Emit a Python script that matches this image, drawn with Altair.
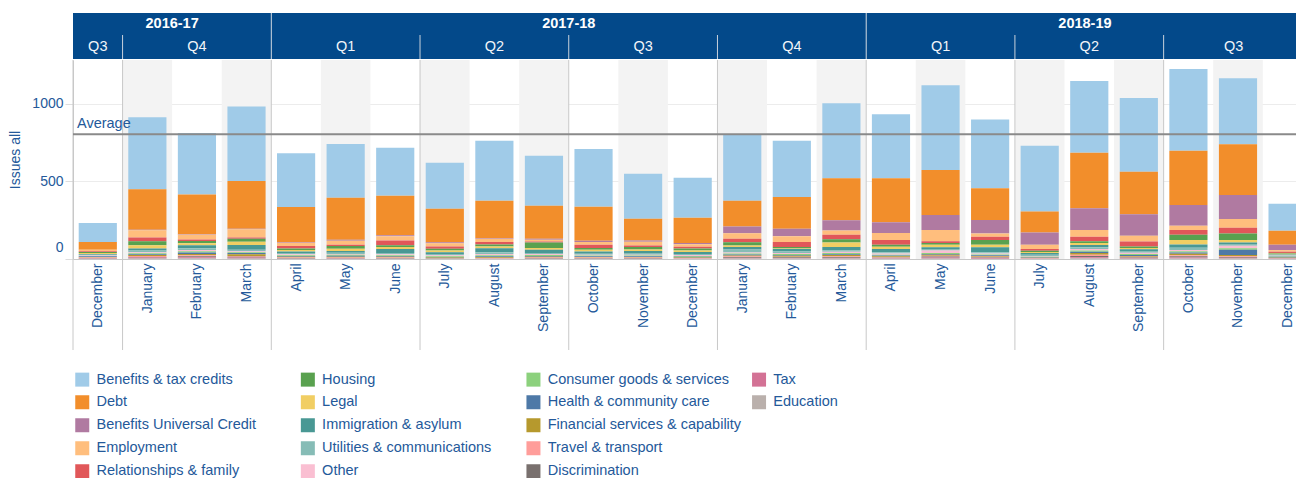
import json
import altair as alt
import pandas as pd

# ---------------- data ----------------
months = ["December", "January", "February", "March", "April", "May", "June",
          "July", "August", "September", "October", "November", "December",
          "January", "February", "March", "April", "May", "June",
          "July", "August", "September", "October", "November", "December"]
fiscal_years = ["2016-17"] * 4 + ["2017-18"] * 12 + ["2018-19"] * 9
quarters = ["Q3", "Q4", "Q4", "Q4",
            "Q1", "Q1", "Q1", "Q2", "Q2", "Q2", "Q3", "Q3", "Q3", "Q4", "Q4", "Q4",
            "Q1", "Q1", "Q1", "Q2", "Q2", "Q2", "Q3", "Q3", "Q3"]

categories = ["Benefits & tax credits", "Debt", "Benefits Universal Credit", "Employment",
              "Relationships & family", "Housing", "Legal", "Immigration & asylum",
              "Utilities & communications", "Other", "Consumer goods & services",
              "Health & community care", "Financial services & capability",
              "Travel & transport", "Discrimination", "Tax", "Education"]
colors = ["#A0CBE8", "#F28E2B", "#B07AA1", "#FFBE7D", "#E15759", "#59A14F", "#F1CE63",
          "#499894", "#86BCB6", "#FABFD2", "#8CD17D", "#4E79A7", "#B6992D", "#FF9D9A",
          "#79706E", "#D37295", "#BAB0AC"]

benefits_tax = [123, 464, 397, 480, 347, 347, 309, 296, 386, 322, 373, 290, 257, 423, 362, 482, 411, 547, 444, 423, 463, 476, 527, 424, 174]
debt = [49, 261, 256, 307, 226, 270, 255, 216, 239, 213, 219, 140, 163, 167, 204, 271, 285, 289, 204, 135, 357, 273, 349, 328, 90]
universal_credit = [1, 3, 2, 3, 4, 6, 6, 6, 6, 6, 8, 8, 8, 43, 49, 66, 69, 97, 87, 79, 140, 139, 133, 155, 35]
employment = [9, 46, 32, 53, 22, 26, 28, 21, 21, 11, 17, 24, 16, 36, 37, 28, 45, 73, 21, 28, 43, 37, 28, 55, 10]
relationships = [5, 24, 9, 9, 15, 8, 30, 15, 15, 6, 21, 9, 12, 22, 32, 28, 30, 11, 21, 11, 30, 32, 30, 37, 8]
housing = [6, 26, 15, 19, 10, 18, 11, 12, 13, 36, 11, 17, 12, 21, 10, 21, 13, 11, 30, 8, 11, 10, 34, 43, 5]
legal = [6, 21, 13, 21, 10, 14, 13, 10, 12, 11, 11, 9, 10, 10, 3, 30, 15, 17, 17, 7, 13, 8, 30, 15, 5]
immigration = [6, 14, 18, 30, 10, 11, 26, 12, 25, 21, 15, 13, 12, 15, 15, 21, 21, 10, 32, 10, 15, 12, 20, 10, 4]
utilities = [4, 10, 12, 10, 8, 8, 8, 8, 12, 7, 6, 11, 8, 20, 10, 10, 8, 11, 8, 11, 10, 10, 15, 11, 4]
other = [3, 7, 8, 6, 6, 6, 7, 6, 8, 6, 5, 5, 6, 7, 6, 8, 7, 15, 6, 3, 11, 8, 8, 17, 3]
consumer = [3, 6, 8, 6, 5, 6, 5, 5, 6, 6, 6, 6, 5, 6, 7, 7, 6, 6, 5, 3, 8, 7, 8, 10, 3]
health = [4, 6, 10, 8, 5, 6, 5, 4, 6, 5, 4, 4, 4, 6, 5, 6, 5, 6, 5, 3, 8, 6, 8, 33, 6]
financial = [3, 6, 8, 10, 5, 5, 5, 4, 5, 6, 4, 4, 4, 6, 6, 8, 5, 6, 5, 2, 10, 6, 10, 8, 3]
travel = [3, 6, 7, 5, 3, 3, 3, 2, 3, 3, 3, 3, 2, 5, 4, 5, 4, 5, 4, 2, 8, 5, 7, 5, 2]
discrimination = [2, 4, 5, 6, 3, 2, 2, 1, 1, 2, 2, 2, 1, 5, 4, 5, 3, 7, 3, 1, 8, 4, 7, 5, 1]
tax = [3, 5, 7, 5, 2, 3, 3, 1, 2, 2, 2, 2, 2, 4, 4, 4, 3, 5, 5, 2, 7, 3, 6, 5, 2]
education = [2, 4, 5, 4, 1, 2, 1, 1, 1, 2, 2, 2, 1, 3, 3, 3, 2, 4, 2, 1, 5, 2, 4, 3, 1]

series = [benefits_tax, debt, universal_credit, employment, relationships, housing, legal,
          immigration, utilities, other, consumer, health, financial, travel,
          discrimination, tax, education]

# ---------------- layout constants ----------------
XMIN, XMAX = -0.5, 24.17      # visible part of the month axis
XTEXT = 24.325                # right edge used for centring the clipped headers
PLOT_W, PLOT_H = 1223, 199
TEXT = "#24599a"
HEADER = "#03498a"
FONT = "Liberation Sans"
SEP = "#c8c8c8"

rows = []
n = len(categories)
for k, (cat, vals) in enumerate(zip(categories, series)):
    for i, v in enumerate(vals):
        rows.append({"idx": i, "month": months[i], "category": cat,
                     "value": v, "rank": n - k})
df = pd.DataFrame(rows)

mdf = pd.DataFrame({"idx": list(range(len(months))), "month": months,
                    "fy": fiscal_years, "q": quarters})
mdf["qkey"] = mdf["fy"] + " " + mdf["q"]
ydf = mdf.groupby("fy", sort=False).agg(start=("idx", "min"), end=("idx", "max")).reset_index()
qdf = mdf.groupby("qkey", sort=False).agg(q=("q", "first"), fy=("fy", "first"),
                                           start=("idx", "min"), end=("idx", "max")).reset_index()
year_starts = set(ydf["start"].tolist())
bdf = pd.DataFrame({"pos": [s - 0.5 for s in qdf["start"].tolist()[1:]],
                    "is_year": [s in year_starts for s in qdf["start"].tolist()[1:]]})

# legend: 4 columns x 5 rows filled column-wise; empty fillers complete the last column
blanks = [" ", "  ", "   "]
legend_domain = categories + blanks
legend_range = colors + ["rgba(255,255,255,0)"] * len(blanks)

xs = alt.Scale(domain=[XMIN, XMAX], nice=False, zero=False, clamp=True)
ys = alt.Scale(domain=[0, 1282], nice=False, zero=False)

label_expr = "[" + ",".join(json.dumps(m) for m in months) + "][datum.value]"

X_AXIS = alt.Axis(
    values=list(range(len(months))), labelExpr=label_expr, labelAngle=270,
    labelAlign="right", labelBaseline="middle", labelFontSize=14, labelColor=TEXT,
    labelFont=FONT, labelPadding=4, ticks=False, grid=False, domainColor=SEP,
    title=None, labelOverlap=False, labelFlush=False)
Y_AXIS = alt.Axis(
    values=[0, 500, 1000], format="d", title="Issues all", titleFontSize=14,
    titleFontWeight="normal", titleColor=TEXT, titleFont=FONT, titlePadding=9,
    labelFontSize=14, labelColor=TEXT, labelFont=FONT, tickSize=8,
    tickColor="#dddddd", domainColor=SEP, gridColor="#ececec", labelPadding=2,
    labelFlush=True, labelFlushOffset=-5)


def xq(field):
    return alt.X(field, scale=xs, axis=X_AXIS)


def yq(field):
    return alt.Y(field, scale=ys, axis=Y_AXIS)


# ---------------- layers ----------------
shade = alt.Chart(mdf).transform_filter("datum.idx % 2 == 1").transform_calculate(
    x0="datum.idx - 0.5", x1="datum.idx + 0.5"
).mark_rect(color="#f3f3f3").encode(
    x=xq("x0:Q"), x2="x1:Q", y=alt.value(0), y2=alt.value(PLOT_H)
)

bars = alt.Chart(df).transform_calculate(
    xl="datum.idx - 0.385", xr="datum.idx + 0.385"
).transform_stack(
    stack="value", groupby=["idx"],
    sort=[alt.SortField("rank", order="ascending")], as_=["y0", "y1"]
).mark_bar().encode(
    x=xq("xl:Q"), x2="xr:Q",
    y=yq("y0:Q"), y2="y1:Q",
    color=alt.Color("category:N", scale=alt.Scale(domain=legend_domain, range=legend_range),
                    legend=alt.Legend(orient="none", legendX=2, legendY=312, columns=4,
                                      gridAlign="all", columnPadding=10.6, rowPadding=7,
                                      symbolType="square", symbolSize=196,
                                      symbolStrokeWidth=0, labelFontSize=14.5,
                                      labelColor=TEXT, labelFont=FONT, labelLimit=300,
                                      labelOffset=7, padding=0, title=None)),
)

seps = alt.Chart(bdf).mark_rule(color=SEP, strokeWidth=1).encode(
    x=xq("pos:Q"), y=alt.value(0), y2=alt.value(290)
)
left_line = alt.Chart(mdf.head(1)).mark_rule(color=SEP, strokeWidth=1).encode(
    x=alt.value(0), y=alt.value(0), y2=alt.value(290)
)

avg_base = alt.Chart(df).transform_aggregate(
    total="sum(value)", groupby=["idx"]
).transform_aggregate(avg="mean(total)")
avg_rule = avg_base.mark_rule(color="#8a8a8a", strokeWidth=2).encode(y=yq("avg:Q"))
avg_text = avg_base.mark_text(align="left", baseline="bottom", dx=4, dy=-3,
                              fontSize=14.5, color=TEXT, font=FONT).encode(
    x=alt.value(0), y=yq("avg:Q"), text=alt.value("Average")
)

header = alt.Chart(ydf).transform_calculate(
    x0="datum.start - 0.5", x1="datum.end + 0.5"
).mark_rect(color=HEADER).encode(
    x=xq("x0:Q"), x2="x1:Q", y=alt.value(-47), y2=alt.value(-1)
)
hsep_year = alt.Chart(bdf).transform_filter("datum.is_year").mark_rule(
    color="#c9d2dc", strokeWidth=1).encode(
    x=xq("pos:Q"), y=alt.value(-47), y2=alt.value(-1)
)
hsep_q = alt.Chart(bdf).transform_filter("!datum.is_year").mark_rule(
    color="#c9d2dc", strokeWidth=1).encode(
    x=xq("pos:Q"), y=alt.value(-25), y2=alt.value(-1)
)
year_text = alt.Chart(ydf).transform_calculate(
    xm=f"(datum.start - 0.5 + min(datum.end + 0.5, {XTEXT})) / 2"
).mark_text(color="white", fontSize=14.5, fontWeight="bold", font=FONT,
            baseline="middle").encode(
    x=xq("xm:Q"), y=alt.value(-36), text="fy:N"
)
q_text = alt.Chart(qdf).transform_calculate(
    xm=f"(datum.start - 0.5 + min(datum.end + 0.5, {XTEXT})) / 2"
).mark_text(color="#f2f5f9", fontSize=14.5, font=FONT, baseline="middle").encode(
    x=xq("xm:Q"), y=alt.value(-13), text="q:N"
)

chart = alt.layer(
    shade, bars, seps, left_line, avg_rule, avg_text,
    header, hsep_year, hsep_q, year_text, q_text
).properties(
    width=PLOT_W, height=PLOT_H,
    padding={"left": 65, "top": 52, "right": 0, "bottom": 219},
    autosize=alt.AutoSizeParams(type="none"),
    background="white",
).configure_view(stroke=None)

chart.save("out.html", embed_options={"renderer": "svg", "actions": False})
